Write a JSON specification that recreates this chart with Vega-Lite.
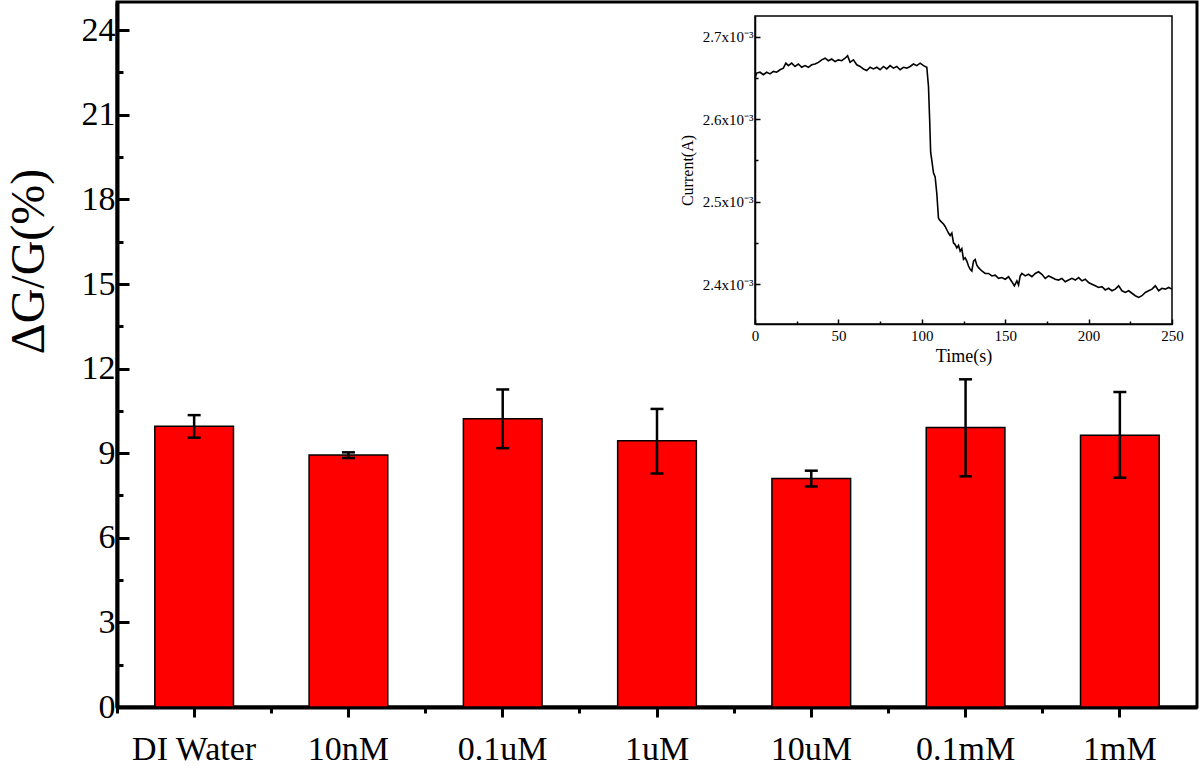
{
  "$schema": "https://vega.github.io/schema/vega-lite/v6.json",
  "width": 1080,
  "height": 705,
  "autosize": {"type": "none"},
  "padding": {"left": 117, "top": 2, "right": 3, "bottom": 62},
  "background": "white",
  "config": {
    "view": {"stroke": "black", "strokeWidth": 3},
    "font": "Liberation Serif",
    "axis": {"labelColor": "black", "titleColor": "black", "domainColor": "black", "tickColor": "black", "labelFont": "Liberation Serif", "titleFont": "Liberation Serif", "titleFontWeight": "normal", "grid": false}
  },
  "datasets": {
    "bars": [
      {"sample": "DI Water", "mean": 9.96, "lo": 9.55, "hi": 10.35},
      {"sample": "10nM", "mean": 8.94, "lo": 8.83, "hi": 9.03},
      {"sample": "0.1uM", "mean": 10.22, "lo": 9.18, "hi": 11.26},
      {"sample": "1uM", "mean": 9.44, "lo": 8.28, "hi": 10.57},
      {"sample": "10uM", "mean": 8.1, "lo": 7.82, "hi": 8.38},
      {"sample": "0.1mM", "mean": 9.91, "lo": 8.18, "hi": 11.62},
      {"sample": "1mM", "mean": 9.64, "lo": 8.13, "hi": 11.17}
    ],
    "frame": [{"t0": 0, "t1": 250, "c0": 0.0023517, "c1": 0.0027252}],
    "trace": [
      {"t": 0, "c": 0.002650}, {"t": 1, "c": 0.002656}, {"t": 3, "c": 0.002657}, {"t": 5, "c": 0.002654},
      {"t": 7, "c": 0.002657}, {"t": 9, "c": 0.002655}, {"t": 11, "c": 0.002658}, {"t": 13, "c": 0.002657},
      {"t": 15, "c": 0.002660}, {"t": 17, "c": 0.002662}, {"t": 18.5, "c": 0.002668}, {"t": 20, "c": 0.002665},
      {"t": 22, "c": 0.002668}, {"t": 24, "c": 0.002664}, {"t": 26, "c": 0.002667}, {"t": 28, "c": 0.002663},
      {"t": 30, "c": 0.002665}, {"t": 32, "c": 0.002663}, {"t": 34, "c": 0.002666}, {"t": 36, "c": 0.002667},
      {"t": 38, "c": 0.002669}, {"t": 40, "c": 0.002672}, {"t": 42, "c": 0.002674}, {"t": 44, "c": 0.002671},
      {"t": 46, "c": 0.002673}, {"t": 48, "c": 0.002670}, {"t": 50, "c": 0.002672}, {"t": 52, "c": 0.002671},
      {"t": 54, "c": 0.002674}, {"t": 55.5, "c": 0.002677}, {"t": 57, "c": 0.002669}, {"t": 59, "c": 0.002672},
      {"t": 61, "c": 0.002666}, {"t": 63, "c": 0.002664}, {"t": 65, "c": 0.002661}, {"t": 67, "c": 0.002659},
      {"t": 69, "c": 0.002663}, {"t": 71, "c": 0.002661}, {"t": 73, "c": 0.002663}, {"t": 75, "c": 0.002660},
      {"t": 77, "c": 0.002664}, {"t": 79, "c": 0.002661}, {"t": 81, "c": 0.002665}, {"t": 83, "c": 0.002662},
      {"t": 85, "c": 0.002664}, {"t": 87, "c": 0.002660}, {"t": 89, "c": 0.002663}, {"t": 91, "c": 0.002662},
      {"t": 93, "c": 0.002664}, {"t": 95, "c": 0.002667}, {"t": 97, "c": 0.002665}, {"t": 99, "c": 0.002668},
      {"t": 101, "c": 0.002665}, {"t": 103, "c": 0.002663}, {"t": 104, "c": 0.002640}, {"t": 104.7, "c": 0.002600},
      {"t": 105.3, "c": 0.002560}, {"t": 106, "c": 0.002550}, {"t": 107, "c": 0.002535}, {"t": 108, "c": 0.002530},
      {"t": 109, "c": 0.002510}, {"t": 110, "c": 0.002480}, {"t": 111, "c": 0.002477}, {"t": 113, "c": 0.002473},
      {"t": 114, "c": 0.002470}, {"t": 115, "c": 0.002466}, {"t": 116, "c": 0.002462}, {"t": 117, "c": 0.002459},
      {"t": 118, "c": 0.002462}, {"t": 119, "c": 0.002450}, {"t": 120, "c": 0.002448}, {"t": 121, "c": 0.002444},
      {"t": 122, "c": 0.002447}, {"t": 123, "c": 0.002440}, {"t": 124, "c": 0.002443}, {"t": 125, "c": 0.002430},
      {"t": 126, "c": 0.002432}, {"t": 127, "c": 0.002428}, {"t": 128, "c": 0.002422}, {"t": 129, "c": 0.002418},
      {"t": 130, "c": 0.002416}, {"t": 131, "c": 0.002428}, {"t": 132, "c": 0.002430}, {"t": 133, "c": 0.002423},
      {"t": 134, "c": 0.002420}, {"t": 136, "c": 0.002416}, {"t": 138, "c": 0.002413}, {"t": 140, "c": 0.002413},
      {"t": 142, "c": 0.002410}, {"t": 144, "c": 0.002411}, {"t": 146, "c": 0.002407}, {"t": 148, "c": 0.002408},
      {"t": 150, "c": 0.002406}, {"t": 152, "c": 0.002409}, {"t": 154, "c": 0.002403}, {"t": 155.5, "c": 0.002398},
      {"t": 157, "c": 0.002404}, {"t": 158, "c": 0.002399}, {"t": 159, "c": 0.002410}, {"t": 160, "c": 0.002413},
      {"t": 162, "c": 0.002410}, {"t": 164, "c": 0.002412}, {"t": 166, "c": 0.002409}, {"t": 168, "c": 0.002413},
      {"t": 170, "c": 0.002415}, {"t": 172, "c": 0.002412}, {"t": 174, "c": 0.002407}, {"t": 176, "c": 0.002410},
      {"t": 178, "c": 0.002408}, {"t": 180, "c": 0.002406}, {"t": 182, "c": 0.002405}, {"t": 184, "c": 0.002407},
      {"t": 186, "c": 0.002403}, {"t": 188, "c": 0.002405}, {"t": 190, "c": 0.002407}, {"t": 192, "c": 0.002405},
      {"t": 194, "c": 0.002408}, {"t": 196, "c": 0.002404}, {"t": 198, "c": 0.002406}, {"t": 200, "c": 0.002402},
      {"t": 202, "c": 0.002400}, {"t": 204, "c": 0.002398}, {"t": 206, "c": 0.002396}, {"t": 208, "c": 0.002397},
      {"t": 210, "c": 0.002393}, {"t": 212, "c": 0.002395}, {"t": 214, "c": 0.002392}, {"t": 216, "c": 0.002394},
      {"t": 218, "c": 0.002398}, {"t": 220, "c": 0.002392}, {"t": 222, "c": 0.002390}, {"t": 224, "c": 0.002392},
      {"t": 226, "c": 0.002389}, {"t": 228, "c": 0.002386}, {"t": 230, "c": 0.002384}, {"t": 232, "c": 0.002386},
      {"t": 234, "c": 0.002390}, {"t": 236, "c": 0.002392}, {"t": 238, "c": 0.002394}, {"t": 240, "c": 0.002398},
      {"t": 242, "c": 0.002392}, {"t": 244, "c": 0.002395}, {"t": 246, "c": 0.002394}, {"t": 248, "c": 0.002396},
      {"t": 250, "c": 0.002394}
    ]
  },
  "layer": [
    {
      "data": {"name": "bars"},
      "layer": [
        {
          "mark": {"type": "bar", "color": "#ff0000", "stroke": "black", "strokeWidth": 1.5, "width": {"band": 0.51}},
          "encoding": {
            "x": {"field": "sample", "type": "nominal", "sort": null,
              "scale": {"paddingInner": 0, "paddingOuter": 0},
              "axis": {"orient": "bottom", "title": null, "labelAngle": 0, "labelFontSize": 34, "tickSize": 10, "tickWidth": 3, "domainWidth": 4, "labelPadding": 15}},
            "y": {"field": "mean", "type": "quantitative",
              "scale": {"domain": [0, 25], "nice": false},
              "axis": {
                "orient": "left",
                "values": [0, 1.5, 3, 4.5, 6, 7.5, 9, 10.5, 12, 13.5, 15, 16.5, 18, 19.5, 21, 22.5, 24],
                "labelExpr": "datum.value % 3 === 0 ? datum.label : ''",
                "tickSize": {"condition": {"test": "datum.value % 3 === 0", "value": -12}, "value": -6},
                "tickWidth": 3, "domainWidth": 4, "labelFontSize": 34, "labelPadding": 14,
                "title": "ΔG/G(%)", "titleFontSize": 48, "titleX": -88, "titleY": 259, "titleAngle": -90,
                "titleAlign": "center", "titleBaseline": "middle"
              }}
          }
        },
        {
          "mark": {"type": "rule", "strokeWidth": 2.5, "color": "black"},
          "encoding": {
            "x": {"field": "sample", "type": "nominal", "sort": null},
            "y": {"field": "lo", "type": "quantitative"},
            "y2": {"field": "hi"}
          }
        },
        {
          "mark": {"type": "tick", "thickness": 2.5, "size": 13, "color": "black", "opacity": 1},
          "encoding": {
            "x": {"field": "sample", "type": "nominal", "sort": null},
            "y": {"field": "lo", "type": "quantitative"}
          }
        },
        {
          "mark": {"type": "tick", "thickness": 2.5, "size": 13, "color": "black", "opacity": 1},
          "encoding": {
            "x": {"field": "sample", "type": "nominal", "sort": null},
            "y": {"field": "hi", "type": "quantitative"}
          }
        }
      ]
    },
    {
      "layer": [
        {
          "data": {"name": "trace"},
          "mark": {"type": "line", "color": "black", "strokeWidth": 1.6, "interpolate": "linear"},
          "encoding": {
            "x": {"field": "t", "type": "quantitative",
              "scale": {"domain": [0, 250], "range": [638, 1055], "nice": false, "zero": false},
              "axis": {"orient": "bottom", "offset": -383, "values": [0, 25, 50, 75, 100, 125, 150, 175, 200, 225, 250],
                "labelExpr": "datum.value % 50 === 0 ? datum.label : ''", "labelFlush": false, "labelOverlap": false,
                "tickSize": {"condition": {"test": "datum.value % 50 === 0", "value": -5}, "value": -3},
                "tickWidth": 1.5, "domainWidth": 1.5, "labelFontSize": 15, "labelPadding": 9,
                "title": "Time(s)", "titleFontSize": 18, "titlePadding": 2}},
            "y": {"field": "c", "type": "quantitative",
              "scale": {"domain": [0.0023517, 0.0027252], "range": [322, 14], "nice": false, "zero": false},
              "axis": {"orient": "left", "offset": -638, "values": [0.0024, 0.00245, 0.0025, 0.00255, 0.0026, 0.00265, 0.0027],
                "labelExpr": "abs(datum.value*10000 - round(datum.value*10000)) < 0.01 ? format(datum.value*1000, '.1f') + 'x10⁻³' : ''",
                "labelFlush": false, "labelOverlap": false,
                "tickSize": {"condition": {"test": "abs(datum.value*10000 - round(datum.value*10000)) < 0.01", "value": -5}, "value": -3},
                "tickWidth": 1.5, "domainWidth": 1.5, "labelFontSize": 15, "labelPadding": 7,
                "title": "Current(A)", "titleFontSize": 16, "titlePadding": 7}}
          }
        },
        {
          "data": {"name": "frame"},
          "mark": {"type": "rect", "fill": "white", "fillOpacity": 0, "stroke": "black", "strokeWidth": 1.5},
          "encoding": {
            "x": {"field": "t0", "type": "quantitative"},
            "x2": {"field": "t1"},
            "y": {"field": "c0", "type": "quantitative"},
            "y2": {"field": "c1"}
          }
        }
      ]
    },
    {
      "data": {"name": "bars"},
      "mark": {"type": "rule", "opacity": 0},
      "encoding": {
        "x": {"field": "sample", "type": "nominal", "sort": null,
          "scale": {"paddingInner": 0, "paddingOuter": 0},
          "axis": {"orient": "bottom", "bandPosition": 0, "labels": false, "domain": false, "tickSize": 6, "tickWidth": 3, "title": null}}
      }
    }
  ],
  "resolve": {"scale": {"x": "independent", "y": "independent"}, "axis": {"x": "independent", "y": "independent"}}
}
